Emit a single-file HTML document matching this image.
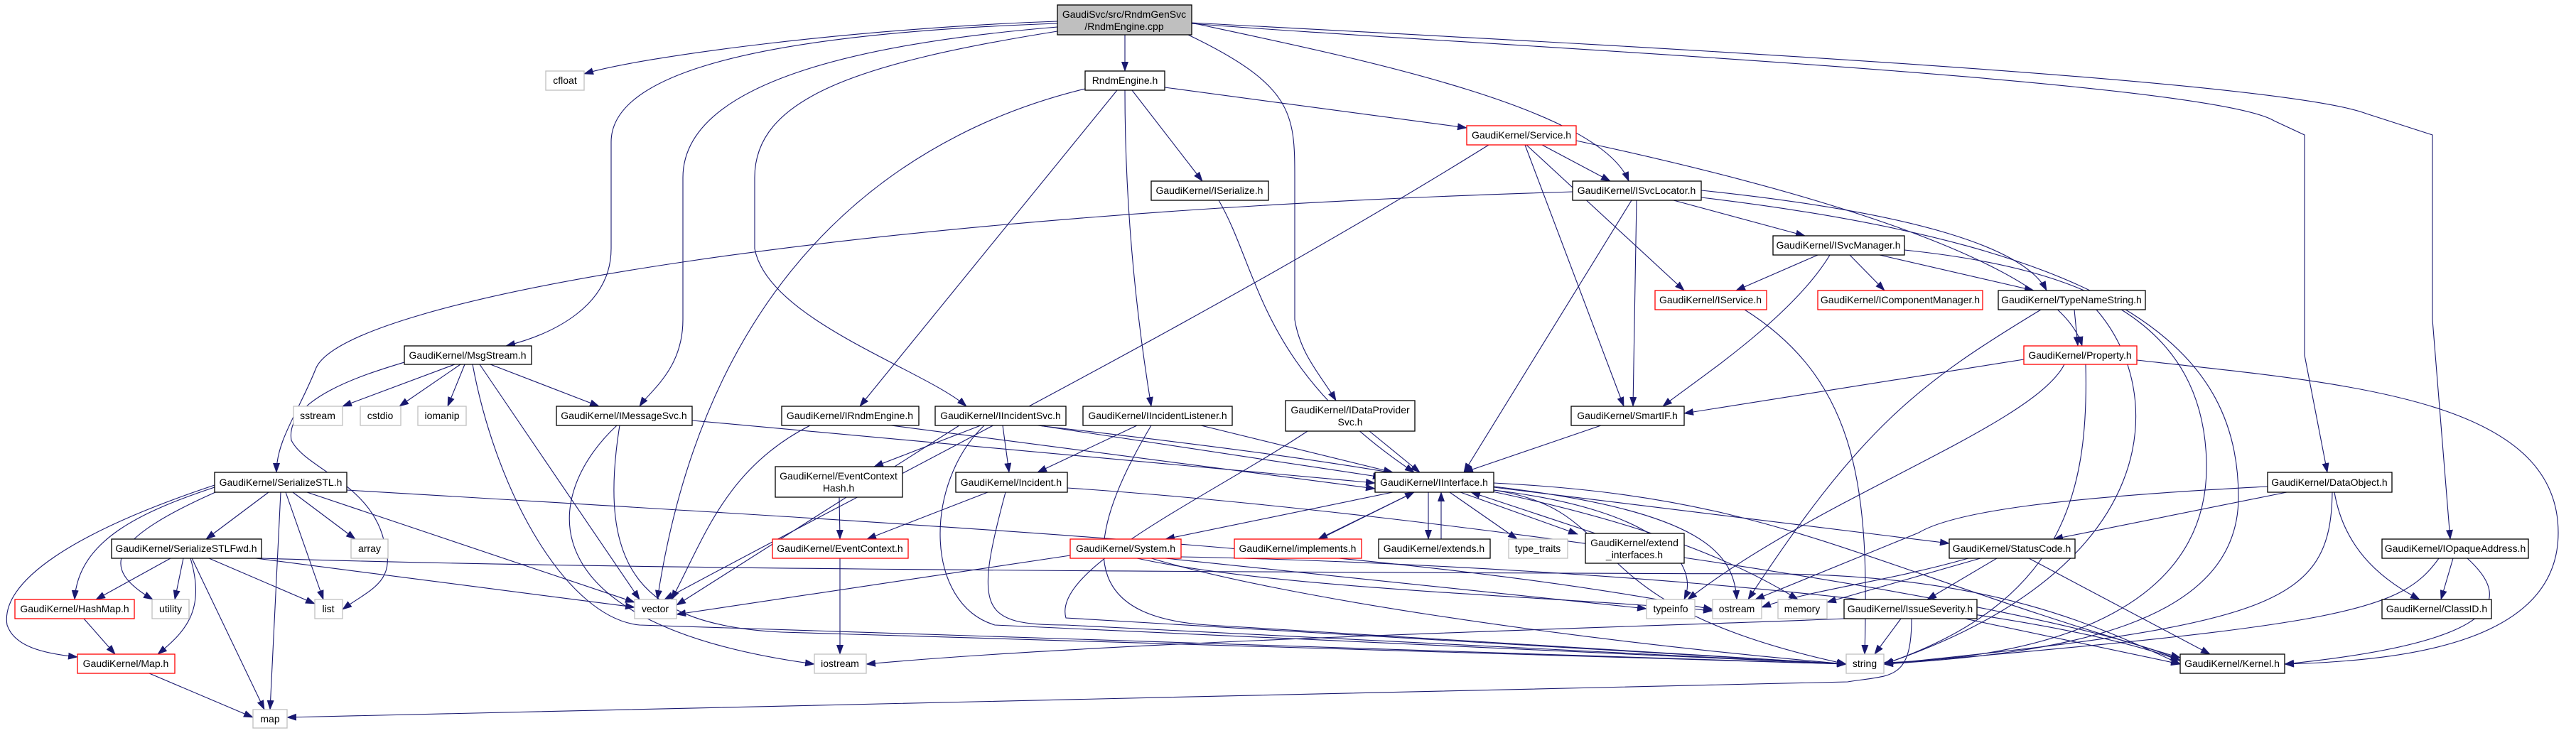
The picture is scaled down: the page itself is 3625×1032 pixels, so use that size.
<!DOCTYPE html>
<html><head><meta charset="utf-8"><style>
html,body{margin:0;padding:0;background:#fff;}
svg{display:block;}
text{font-family:"Liberation Sans",sans-serif;font-size:14px;fill:#000;}
</style></head><body>
<svg width="3625" height="1032" viewBox="0 0 3625 1032" xmlns="http://www.w3.org/2000/svg">
<defs><marker id="a" markerWidth="14" markerHeight="10" refX="13" refY="5" orient="auto" markerUnits="userSpaceOnUse"><path d="M0,0 L14,5 L0,10z" fill="#191970"/></marker></defs>
<g fill="none" stroke="#191970" stroke-width="1.1" marker-end="url(#a)">
<path d="M1488,30 C1200,40 900,80 822,104"/>
<path d="M1488,33 C1000,50 860,120 860,200 L860,350 C860,430 780,470 712,487"/>
<path d="M1488,38 C1100,70 961,150 961,250 L961,450 C961,520 915,550 900,572"/>
<path d="M1488,44 C1200,90 1062,140 1062,250 L1062,350 C1080,450 1300,520 1360,572"/>
<path d="M1583,49 L1583,100"/>
<path d="M1672,49 C1820,120 1822,160 1822,250 L1822,450 C1830,500 1860,530 1880,564"/>
<path d="M1676,32 C1900,80 2250,150 2292,255"/>
<path d="M1676,33 C2000,60 3100,110 3200,170 L3243,190 L3243,500 L3275,665"/>
<path d="M1676,32 C2200,60 3200,110 3330,160 L3423,190 L3423,450 L3448,759"/>
<path d="M1639,123 L2064,180"/>
<path d="M1593,127 L1692,255"/>
<path d="M1572,127 L1210,572"/>
<path d="M1583,127 C1583,300 1600,450 1620,572"/>
<path d="M1527,125 C1300,180 1000,350 925,844"/>
<path d="M1715,282 C1772,380 1772,520 1990,665"/>
<path d="M2170,204 L2266,255"/>
<path d="M2148,204 L2370,409"/>
<path d="M2146,204 L2285,572"/>
<path d="M2218,198 C2600,280 2900,380 2930,487"/>
<path d="M2095,204 C1700,450 1200,700 935,844"/>
<path d="M2355,282 L2540,332"/>
<path d="M2303,282 L2298,572"/>
<path d="M2296,282 L2060,665"/>
<path d="M2394,268 C2700,300 2850,350 2880,409"/>
<path d="M2394,278 C3000,350 3150,500 3150,700 C3150,880 2900,920 2651,935"/>
<path d="M2213,270 C1200,300 480,420 444,520 C420,580 389,620 389,665"/>
<path d="M2558,359 L2443,409"/>
<path d="M2603,359 L2652,409"/>
<path d="M2645,359 L2862,409"/>
<path d="M2575,359 C2520,450 2380,540 2340,572"/>
<path d="M2680,352 C2950,380 3100,460 3105,650 C3110,850 2900,925 2651,933"/>
<path d="M2455,436 C2620,540 2630,700 2624,921"/>
<path d="M2919,436 L2924,487"/>
<path d="M2872,436 C2700,540 2620,600 2460,844"/>
<path d="M2950,436 C3050,550 3050,800 2651,935"/>
<path d="M2848,506 L2370,582"/>
<path d="M2905,513 C2860,600 2560,700 2375,844"/>
<path d="M2935,513 C2940,700 2900,850 2651,935"/>
<path d="M3007,507 C3300,540 3600,560 3600,750 C3600,900 3400,930 3215,935"/>
<path d="M640,513 L482,572"/>
<path d="M648,513 L562,572"/>
<path d="M654,513 L630,572"/>
<path d="M690,513 L843,572"/>
<path d="M675,513 L900,844"/>
<path d="M665,513 C700,700 800,870 900,880 L2598,935"/>
<path d="M569,510 C520,525 400,560 410,620 C430,660 520,680 540,760 C560,820 520,830 482,858"/>
<path d="M974,592 L1935,680"/>
<path d="M872,599 C840,800 900,880 1100,890 L2598,935"/>
<path d="M868,599 C760,700 740,880 1146,935"/>
<path d="M1254,599 L1935,688"/>
<path d="M1140,599 C1020,660 990,760 945,844"/>
<path d="M1462,599 L1945,672"/>
<path d="M1411,599 L1420,665"/>
<path d="M1380,599 L1230,657"/>
<path d="M1350,599 L952,852"/>
<path d="M1385,599 C1300,680 1300,850 1400,880 L2598,935"/>
<path d="M1460,599 C1900,650 2300,700 2530,844"/>
<path d="M1690,599 L1960,665"/>
<path d="M1600,599 L1460,665"/>
<path d="M1620,599 C1500,800 1550,870 1700,880 L2598,935"/>
<path d="M1927,607 L1998,665"/>
<path d="M1840,607 C1700,700 1480,800 1500,870 L2598,935"/>
<path d="M2253,599 L2060,665"/>
<path d="M1390,693 L1220,759"/>
<path d="M1415,693 C1370,860 1380,880 1500,880 L2598,935"/>
<path d="M1502,687 C2000,720 2900,850 3068,930"/>
<path d="M1181,700 L1182,759"/>
<path d="M1182,786 L1182,921"/>
<path d="M1960,693 L1640,759"/>
<path d="M1990,693 L1855,759"/>
<path d="M2010,693 L2010,759"/>
<path d="M2040,693 L2135,759"/>
<path d="M2055,693 L2220,752"/>
<path d="M2102,690 C2350,720 2390,800 2370,844"/>
<path d="M2102,685 C2400,720 2440,780 2444,844"/>
<path d="M2102,686 L2743,765"/>
<path d="M2102,680 C2500,700 2600,790 3068,926"/>
<path d="M2102,690 C2300,720 2200,850 2598,935"/>
<path d="M1857,759 L1990,693"/>
<path d="M2028,759 L2028,693"/>
<path d="M2245,751 L2070,693"/>
<path d="M1506,782 L952,865"/>
<path d="M1640,786 L2317,857"/>
<path d="M1620,786 C1800,840 2200,900 2598,935"/>
<path d="M1662,784 C2000,790 2800,830 3068,930"/>
<path d="M1600,786 C1800,830 2200,840 2410,860"/>
<path d="M378,693 L290,759"/>
<path d="M412,693 L500,759"/>
<path d="M402,693 L455,844"/>
<path d="M395,693 L380,999"/>
<path d="M432,693 L893,848"/>
<path d="M302,686 C200,720 110,760 105,844"/>
<path d="M310,690 C150,760 140,800 215,844"/>
<path d="M302,683 C100,750 0,820 10,880 C20,910 60,920 109,925"/>
<path d="M488,690 C1500,750 2000,780 2410,858"/>
<path d="M240,786 L135,844"/>
<path d="M258,786 L246,844"/>
<path d="M294,786 L443,850"/>
<path d="M270,786 L372,999"/>
<path d="M268,786 C290,860 260,890 222,921"/>
<path d="M360,786 L893,855"/>
<path d="M368,786 C800,800 1500,805 2500,808 C2800,810 2950,880 3068,935"/>
<path d="M118,871 L162,921"/>
<path d="M210,948 L356,1010"/>
<path d="M2675,871 L2638,921"/>
<path d="M2765,871 L3068,935"/>
<path d="M2595,871 C2400,880 1600,900 1219,935"/>
<path d="M2690,871 C2690,960 2660,950 2600,960 L404,1010"/>
<path d="M2770,786 C2650,820 2550,830 2479,855"/>
<path d="M2787,786 L2571,848"/>
<path d="M2810,786 L2712,844"/>
<path d="M2855,786 L3110,921"/>
<path d="M3218,693 L2890,759"/>
<path d="M3191,685 C2900,700 2750,720 2700,750 L2470,844"/>
<path d="M3282,693 C3280,850 3200,880 2651,935"/>
<path d="M3285,693 C3300,780 3360,820 3405,844"/>
<path d="M3452,786 L3435,844"/>
<path d="M3432,786 C3380,860 3300,880 2651,935"/>
<path d="M3472,786 C3520,830 3560,900 3215,935"/>
</g>
<g stroke-width="1.3" fill="#fff">
<rect x="1488" y="7" width="189" height="42" fill="#bfbfbf" stroke="#000"/>
<rect x="768" y="100" width="54" height="27" stroke="#bfbfbf"/>
<rect x="569" y="487" width="179" height="26" stroke="#000"/>
<rect x="1527" y="100" width="112" height="27" stroke="#000"/>
<rect x="2064" y="177" width="154" height="27" stroke="#f00"/>
<rect x="1620" y="255" width="165" height="27" stroke="#000"/>
<rect x="2213" y="255" width="181" height="27" stroke="#000"/>
<rect x="2329" y="409" width="157" height="27" stroke="#f00"/>
<rect x="2495" y="332" width="185" height="27" stroke="#000"/>
<rect x="2558" y="409" width="232" height="27" stroke="#f00"/>
<rect x="2812" y="409" width="207" height="27" stroke="#000"/>
<rect x="2848" y="487" width="159" height="26" stroke="#f00"/>
<rect x="413" y="572" width="69" height="27" stroke="#bfbfbf"/>
<rect x="507" y="572" width="57" height="27" stroke="#bfbfbf"/>
<rect x="588" y="572" width="68" height="27" stroke="#bfbfbf"/>
<rect x="783" y="572" width="191" height="27" stroke="#000"/>
<rect x="1100" y="572" width="193" height="27" stroke="#000"/>
<rect x="1316" y="572" width="184" height="27" stroke="#000"/>
<rect x="1524" y="572" width="210" height="27" stroke="#000"/>
<rect x="1809" y="564" width="182" height="43" stroke="#000"/>
<rect x="2211" y="572" width="159" height="27" stroke="#000"/>
<rect x="302" y="665" width="186" height="28" stroke="#000"/>
<rect x="1091" y="657" width="179" height="43" stroke="#000"/>
<rect x="1345" y="665" width="157" height="28" stroke="#000"/>
<rect x="1935" y="665" width="167" height="28" stroke="#000"/>
<rect x="3191" y="665" width="175" height="28" stroke="#000"/>
<rect x="157" y="759" width="211" height="27" stroke="#000"/>
<rect x="494" y="759" width="52" height="27" stroke="#bfbfbf"/>
<rect x="1087" y="759" width="191" height="27" stroke="#f00"/>
<rect x="1506" y="759" width="156" height="27" stroke="#f00"/>
<rect x="1737" y="759" width="179" height="27" stroke="#f00"/>
<rect x="1940" y="759" width="157" height="27" stroke="#000"/>
<rect x="2123" y="759" width="83" height="27" stroke="#bfbfbf"/>
<rect x="2231" y="751" width="139" height="42" stroke="#000"/>
<rect x="2743" y="759" width="177" height="27" stroke="#000"/>
<rect x="3352" y="759" width="206" height="27" stroke="#000"/>
<rect x="21" y="844" width="168" height="27" stroke="#f00"/>
<rect x="214" y="844" width="52" height="27" stroke="#bfbfbf"/>
<rect x="443" y="844" width="39" height="27" stroke="#bfbfbf"/>
<rect x="893" y="844" width="59" height="27" stroke="#bfbfbf"/>
<rect x="2317" y="844" width="68" height="27" stroke="#bfbfbf"/>
<rect x="2410" y="844" width="69" height="27" stroke="#bfbfbf"/>
<rect x="2502" y="844" width="69" height="27" stroke="#bfbfbf"/>
<rect x="2595" y="844" width="187" height="27" stroke="#000"/>
<rect x="3352" y="844" width="154" height="27" stroke="#000"/>
<rect x="109" y="921" width="137" height="27" stroke="#f00"/>
<rect x="1146" y="921" width="73" height="27" stroke="#bfbfbf"/>
<rect x="2598" y="921" width="53" height="27" stroke="#bfbfbf"/>
<rect x="3068" y="921" width="147" height="27" stroke="#000"/>
<rect x="356" y="999" width="48" height="26" stroke="#bfbfbf"/>
</g>
<g text-anchor="middle">
<text x="1582" y="25">GaudiSvc/src/RndmGenSvc</text>
<text x="1582" y="42">/RndmEngine.cpp</text>
<text x="795" y="118">cfloat</text>
<text x="658" y="505">GaudiKernel/MsgStream.h</text>
<text x="1583" y="118">RndmEngine.h</text>
<text x="2141" y="195">GaudiKernel/Service.h</text>
<text x="1702" y="273">GaudiKernel/ISerialize.h</text>
<text x="2303" y="273">GaudiKernel/ISvcLocator.h</text>
<text x="2407" y="427">GaudiKernel/IService.h</text>
<text x="2587" y="350">GaudiKernel/ISvcManager.h</text>
<text x="2674" y="427">GaudiKernel/IComponentManager.h</text>
<text x="2915" y="427">GaudiKernel/TypeNameString.h</text>
<text x="2927" y="505">GaudiKernel/Property.h</text>
<text x="447" y="590">sstream</text>
<text x="535" y="590">cstdio</text>
<text x="622" y="590">iomanip</text>
<text x="878" y="590">GaudiKernel/IMessageSvc.h</text>
<text x="1196" y="590">GaudiKernel/IRndmEngine.h</text>
<text x="1408" y="590">GaudiKernel/IIncidentSvc.h</text>
<text x="1629" y="590">GaudiKernel/IIncidentListener.h</text>
<text x="1900" y="582">GaudiKernel/IDataProvider</text>
<text x="1900" y="599">Svc.h</text>
<text x="2290" y="590">GaudiKernel/SmartIF.h</text>
<text x="395" y="684">GaudiKernel/SerializeSTL.h</text>
<text x="1180" y="675">GaudiKernel/EventContext</text>
<text x="1180" y="692">Hash.h</text>
<text x="1423" y="684">GaudiKernel/Incident.h</text>
<text x="2018" y="684">GaudiKernel/IInterface.h</text>
<text x="3278" y="684">GaudiKernel/DataObject.h</text>
<text x="262" y="777">GaudiKernel/SerializeSTLFwd.h</text>
<text x="520" y="777">array</text>
<text x="1182" y="777">GaudiKernel/EventContext.h</text>
<text x="1584" y="777">GaudiKernel/System.h</text>
<text x="1826" y="777">GaudiKernel/implements.h</text>
<text x="2018" y="777">GaudiKernel/extends.h</text>
<text x="2164" y="777">type_traits</text>
<text x="2300" y="769">GaudiKernel/extend</text>
<text x="2300" y="786">_interfaces.h</text>
<text x="2831" y="777">GaudiKernel/StatusCode.h</text>
<text x="3455" y="777">GaudiKernel/IOpaqueAddress.h</text>
<text x="105" y="862">GaudiKernel/HashMap.h</text>
<text x="240" y="862">utility</text>
<text x="462" y="862">list</text>
<text x="922" y="862">vector</text>
<text x="2351" y="862">typeinfo</text>
<text x="2444" y="862">ostream</text>
<text x="2536" y="862">memory</text>
<text x="2688" y="862">GaudiKernel/IssueSeverity.h</text>
<text x="3429" y="862">GaudiKernel/ClassID.h</text>
<text x="177" y="939">GaudiKernel/Map.h</text>
<text x="1182" y="939">iostream</text>
<text x="2624" y="939">string</text>
<text x="3141" y="939">GaudiKernel/Kernel.h</text>
<text x="380" y="1017">map</text>
</g>
</svg>
</body></html>
